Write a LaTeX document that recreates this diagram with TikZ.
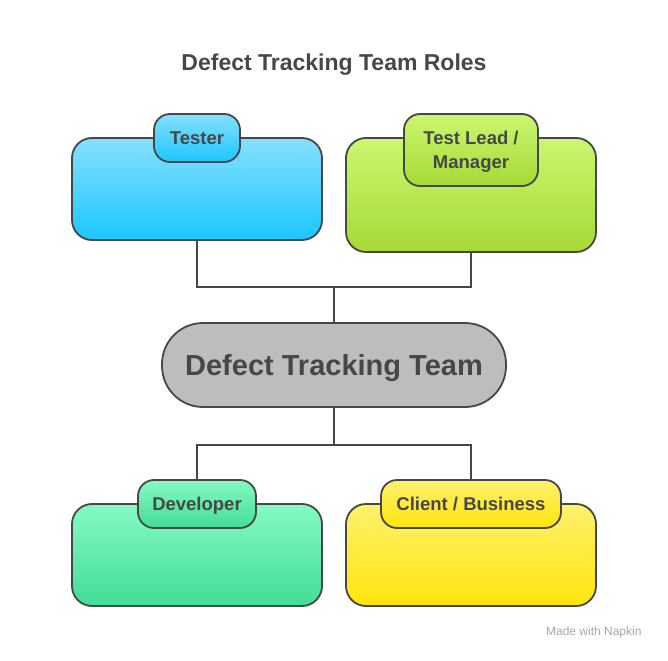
\documentclass[tikz,border=0pt]{standalone}
\usepackage{fontspec}
\setmainfont{Liberation Sans}
\usepackage{xcolor}
\usepackage{tikz}
\usetikzlibrary{
  positioning,
  calc,
  backgrounds
}
\definecolor{RoleInk}{HTML}{474747}
\definecolor{TesterTop}{HTML}{86E0FF}
\definecolor{TesterBot}{HTML}{1BC6FF}
\definecolor{LeadTop}{HTML}{CCF671}
\definecolor{LeadBot}{HTML}{A6DA35}
\definecolor{DevTop}{HTML}{84FAC2}
\definecolor{DevBot}{HTML}{43DD96}
\definecolor{ClientTop}{HTML}{FFF16E}
\definecolor{ClientBot}{HTML}{FFE50B}
\definecolor{TeamGrey}{HTML}{BDBDBD}
\definecolor{MarkGrey}{HTML}{A8A8A8}

\tikzset{
  rolebox/.style={draw=RoleInk,line width=1.8pt,rounded corners=20pt,
    minimum width=250pt,inner sep=0pt},
  roletab/.style={draw=RoleInk,line width=1.8pt,rounded corners=16pt,
    minimum height=48pt,inner xsep=6pt,inner ysep=0pt,align=center,text depth=0pt,
    text=RoleInk,font=\bfseries\fontsize{18.5}{24}\selectfont},
  link/.style={draw=RoleInk,line width=1.8pt}
}

\begin{document}
\begin{tikzpicture}[x=1pt,y=-1pt]
  \useasboundingbox[fill=white] (0,0) rectangle (668,660);

  \node[text=RoleInk,font=\bfseries\fontsize{23}{27}\selectfont] (title) at (334,65) {Defect Tracking Team Roles};

  % role cards
  \node[rolebox,minimum height=102pt,top color=TesterTop,bottom color=TesterBot] (testerbox) at (197,189) {};
  \node[rolebox,minimum height=114pt,top color=LeadTop,bottom color=LeadBot] (leadbox) at (471,195) {};
  \node[rolebox,minimum height=102pt,top color=DevTop,bottom color=DevBot] (devbox) at (197,555) {};
  \node[rolebox,minimum height=102pt,top color=ClientTop,bottom color=ClientBot] (clientbox) at (471,555) {};

  \node[roletab,minimum width=86pt,top color=TesterTop,bottom color=TesterBot] (testertab) at (197,138) {Tester};
  \node[roletab,minimum width=134pt,minimum height=72pt,top color=LeadTop,bottom color=LeadBot] (leadtab) at (471,150) {Test Lead /\\Manager};
  \node[roletab,minimum width=118pt,top color=DevTop,bottom color=DevBot] (devtab) at (197,504) {Developer};
  \node[roletab,minimum width=180pt,top color=ClientTop,bottom color=ClientBot] (clienttab) at (471,504) {Client / Business};

  % centre
  \node[draw=RoleInk,line width=1.8pt,fill=TeamGrey,rounded corners=41pt,
        minimum width=344pt,minimum height=84pt,text=RoleInk,text depth=0pt,
        font=\bfseries\fontsize{29}{33}\selectfont] (team) at (334,365) {Defect Tracking Team};

  \coordinate (upjoin) at (334,287);
  \coordinate (downjoin) at (334,445);
  \draw[link] (testerbox.south) |- (upjoin) -| (leadbox.south);
  \draw[link] (upjoin) -- (team.north);
  \draw[link] (team.south) -- (downjoin);
  \draw[link] (devtab.north) |- (downjoin) -| (clienttab.north);

  \node[text=MarkGrey,font=\fontsize{12}{14}\selectfont,anchor=east] (mark) at (645,632) {Made with Napkin};
\end{tikzpicture}
\end{document}
